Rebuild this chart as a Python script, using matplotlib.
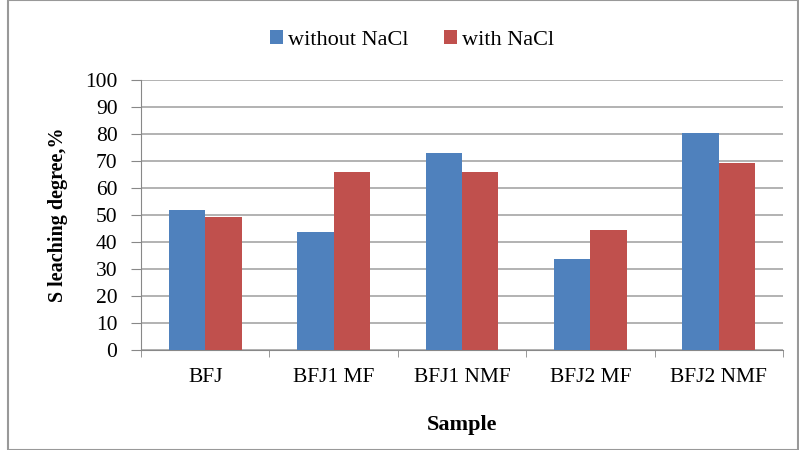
import matplotlib
matplotlib.use("Agg")
import matplotlib.pyplot as plt
import numpy as np
from matplotlib.patches import Rectangle

categories = ["BFJ", "BFJ1 MF", "BFJ1 NMF", "BFJ2 MF", "BFJ2 NMF"]
without_nacl = [52, 43.6, 72.8, 33.7, 80.5]
with_nacl = [49.1, 66.0, 65.8, 44.4, 69.1]
series_names = ["without NaCl", "with NaCl"]
yticks = list(range(0, 101, 10))

plt.rcParams['font.family'] = ['Liberation Serif', 'DejaVu Serif']

fig = plt.figure(figsize=(7.99, 4.5), dpi=100)
ax = fig.add_axes([141/799, 1-350/450, (783-141)/799, 270/450])

x = np.arange(len(categories))
w = 0.284
ax.bar(x - w/2, without_nacl, w, color="#4F81BD", label=series_names[0], zorder=3)
ax.bar(x + w/2, with_nacl, w, color="#C0504D", label=series_names[1], zorder=3)

ax.set_xlim(-0.5, len(categories) - 0.5)
ax.set_ylim(0, 100)
ax.set_yticks(yticks)
ax.set_yticklabels([str(t) for t in yticks], fontsize=15.5)
ax.set_xticks(x)
ax.set_xticklabels(categories, fontsize=15.5)
ax.tick_params(axis='x', which='major', length=0, pad=13)
ax.set_xticks(np.arange(-0.5, len(categories), 1), minor=True)
ax.tick_params(axis='x', which='minor', length=5, color="#888888", direction='out')
ax.tick_params(axis='y', length=7, color="#888888", direction='out', pad=10)

ax.grid(axis='y', color="#A6A6A6", linewidth=1.2, zorder=0)
for s in ["top", "right"]:
    ax.spines[s].set_visible(False)
for s in ["left", "bottom"]:
    ax.spines[s].set_color("#888888")

ax.set_ylabel("S leaching degree,%", fontsize=14.5, fontweight='bold', labelpad=12)
ax.set_xlabel("Sample", fontsize=16, fontweight='bold', labelpad=20)

fig.legend(loc='center', bbox_to_anchor=(412/799, 1-40/450), ncol=2, frameon=False,
           fontsize=16, handlelength=0.6, handleheight=0.6, handletextpad=0.2,
           columnspacing=1.6)

fig.patches.append(Rectangle((8/799, 0), 1-9/799, 1, transform=fig.transFigure,
                             fill=False, edgecolor="#999999", linewidth=1.5))

fig.savefig("out.png", dpi=100)
